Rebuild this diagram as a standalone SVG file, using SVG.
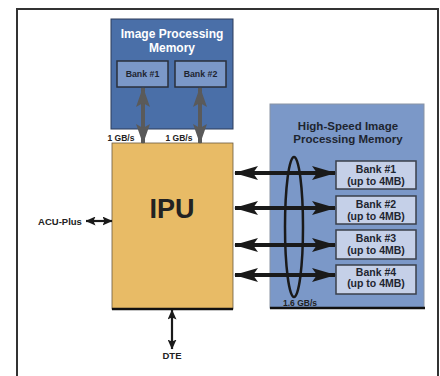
<svg xmlns="http://www.w3.org/2000/svg" width="440" height="376" viewBox="0 0 440 376">
<style>
text{font-family:"Liberation Sans",Arial,sans-serif;font-weight:bold;text-anchor:middle}
.bank{fill:#7b98c8;stroke:#2a2f3a;stroke-width:1.5}
.hbank{fill:#c5d0e8;stroke:#3a3f4a;stroke-width:1.5}
.bt{font-size:8.8px;fill:#1e2530}
.hbt{font-size:10.5px;fill:#1e2530}
.lbl{font-size:8.5px;fill:#222}
.ga{stroke:#5a5a5a;stroke-width:4;fill:none}
.ba{stroke:#1a1a1a;stroke-width:4;fill:none}
.sa{stroke:#1a1a1a;stroke-width:2.2;fill:none}
</style>
<defs>
<marker id="gh" markerUnits="userSpaceOnUse" markerWidth="20" markerHeight="14" refX="19" refY="7" orient="auto-start-reverse"><path d="M0,0 L20,7 L0,14 L4,7 Z" fill="#5a5a5a"/></marker>
<marker id="bh" markerUnits="userSpaceOnUse" markerWidth="24" markerHeight="14" refX="23" refY="7" orient="auto-start-reverse"><path d="M0,0 L24,7 L0,14 L5,7 Z" fill="#1a1a1a"/></marker>
<marker id="sh" markerUnits="userSpaceOnUse" markerWidth="10" markerHeight="9" refX="9.5" refY="4.5" orient="auto-start-reverse"><path d="M0,0 L10,4.5 L0,9 L2,4.5 Z" fill="#1a1a1a"/></marker>
</defs>
<rect x="0" y="0" width="440" height="376" fill="#fff"/>
<rect x="17" y="9" width="421" height="380" fill="none" stroke="#333" stroke-width="2"/>

<g id="ipm">
<rect x="111" y="19" width="122" height="110" fill="#4a6fa8" stroke="#2c3c5a" stroke-width="1"/>
<text x="172" y="38" font-size="12px" fill="#fff">Image Processing</text>
<text x="172" y="51.5" font-size="12px" fill="#fff">Memory</text>
</g>
<g id="ipm-bank1">
<rect class="bank" x="117" y="61" width="51" height="26"/>
<text class="bt" x="142.5" y="76.5">Bank #1</text>
</g>
<g id="ipm-bank2">
<rect class="bank" x="175" y="61" width="51" height="26"/>
<text class="bt" x="200.5" y="77">Bank #2</text>
</g>

<g id="hsm">
<rect x="270" y="104" width="154" height="204" fill="#7b98c8" stroke="#8a94a4" stroke-width="1"/>
<line x1="270" y1="308" x2="425" y2="308" stroke="#111" stroke-width="2.5"/>
<text x="348" y="130" font-size="11.5px" fill="#1e2530">High-Speed Image</text>
<text x="348" y="143" font-size="11.5px" fill="#1e2530">Processing Memory</text>
</g>
<g id="hs-bank1"><rect class="hbank" x="336" y="161" width="80" height="28"/><text class="hbt" x="376" y="173">Bank #1</text><text class="hbt" x="376" y="184.5">(up to 4MB)</text></g>
<g id="hs-bank2"><rect class="hbank" x="336" y="196" width="80" height="28"/><text class="hbt" x="376" y="208">Bank #2</text><text class="hbt" x="376" y="219.5">(up to 4MB)</text></g>
<g id="hs-bank3"><rect class="hbank" x="336" y="230" width="80" height="29"/><text class="hbt" x="376" y="242">Bank #3</text><text class="hbt" x="376" y="253.5">(up to 4MB)</text></g>
<g id="hs-bank4"><rect class="hbank" x="336" y="265" width="80" height="29"/><text class="hbt" x="376" y="275.5">Bank #4</text><text class="hbt" x="376" y="287">(up to 4MB)</text></g>

<g id="ipu">
<rect x="112" y="143" width="121" height="166" fill="#e8bb66" stroke="#6a5a40" stroke-width="0.8"/>
<line x1="112" y1="309" x2="233" y2="309" stroke="#111" stroke-width="2.5"/>
<text x="172" y="218" font-size="27px" fill="#222">IPU</text>
</g>

<g id="labels">
<text class="lbl" x="121" y="141">1 GB/s</text>
<text class="lbl" x="179" y="141">1 GB/s</text>
<text class="lbl" x="300" y="306">1.6 GB/s</text>
<text x="60" y="225" font-size="9.5px" fill="#222">ACU-Plus</text>
<text x="172" y="359" font-size="9.5px" fill="#222">DTE</text>
</g>

<g id="connectors">
<line class="ga" x1="143" y1="88" x2="143" y2="143" marker-start="url(#gh)" marker-end="url(#gh)"/>
<line class="ga" x1="200" y1="88" x2="200" y2="143" marker-start="url(#gh)" marker-end="url(#gh)"/>
<line class="ba" x1="235" y1="173" x2="335" y2="173" marker-start="url(#bh)" marker-end="url(#bh)"/>
<line class="ba" x1="235" y1="208" x2="335" y2="208" marker-start="url(#bh)" marker-end="url(#bh)"/>
<line class="ba" x1="235" y1="245" x2="335" y2="245" marker-start="url(#bh)" marker-end="url(#bh)"/>
<line class="ba" x1="235" y1="275" x2="335" y2="275" marker-start="url(#bh)" marker-end="url(#bh)"/>
<ellipse cx="294" cy="227" rx="9" ry="70" fill="none" stroke="#1a1a1a" stroke-width="2.5"/>
<line class="sa" x1="86" y1="221" x2="112" y2="221" marker-start="url(#sh)" marker-end="url(#sh)"/>
<line class="sa" x1="172" y1="310" x2="172" y2="349" marker-start="url(#sh)" marker-end="url(#sh)"/>
</g>
</svg>
